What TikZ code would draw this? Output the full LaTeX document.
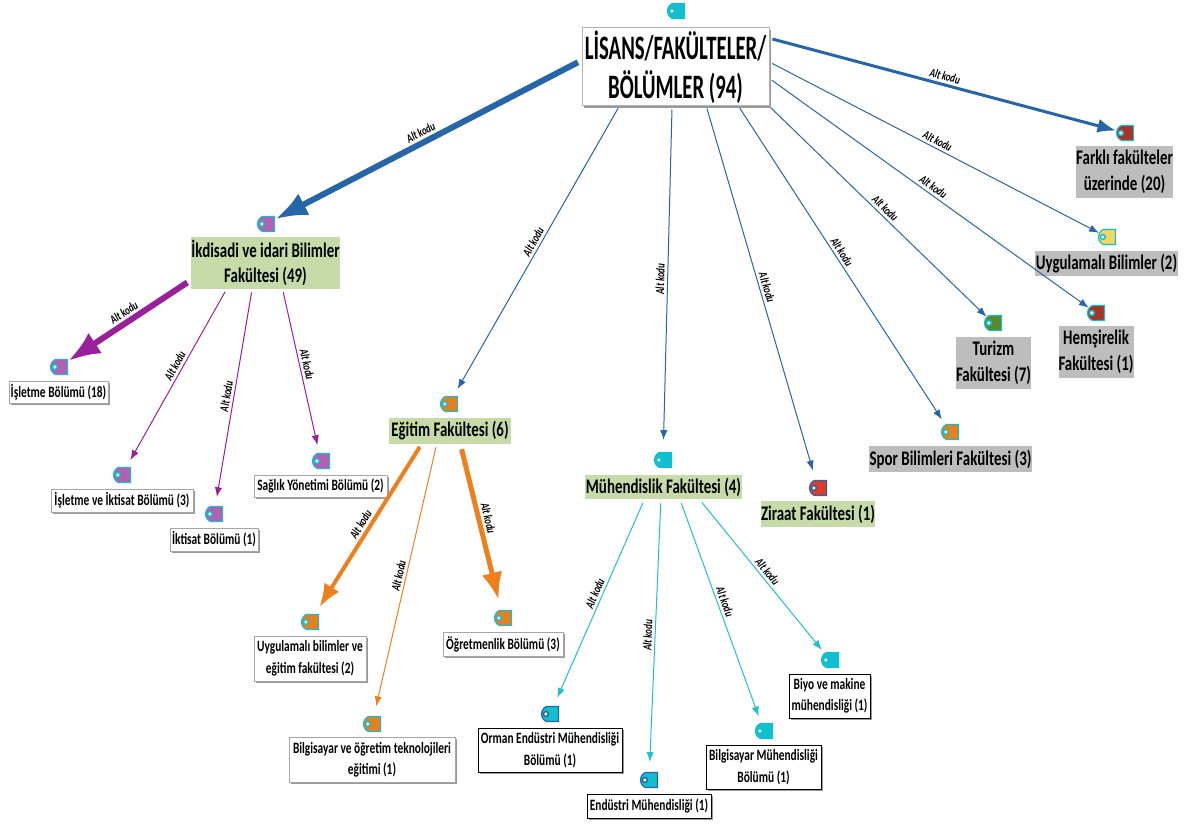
\documentclass[tikz,border=0pt]{standalone}
\usepackage{fontspec}
\setmainfont[FakeStretch=0.72]{Carlito}
\newfontfamily\rootfont[FakeStretch=0.605]{Carlito}
\usetikzlibrary{arrows.meta, shapes.misc, shadows}
\newdimen\px
\px=0.02cm
\definecolor{blueedge}{HTML}{2565A8}
\definecolor{purpleedge}{HTML}{9A1F9A}
\definecolor{orangeedge}{HTML}{EE7F1A}
\definecolor{cyanedge}{HTML}{1FC0CC}
\definecolor{tagcyan}{HTML}{10BFD0}
\definecolor{tagpurple}{HTML}{B45FB4}
\definecolor{tagorange}{HTML}{E87F1C}
\definecolor{tagred}{HTML}{E03A2A}
\definecolor{tagbrick}{HTML}{A93226}
\definecolor{tagolive}{HTML}{5B8A2A}
\definecolor{tagyellow}{HTML}{F3D860}
\definecolor{boxgreen}{HTML}{C6DBA8}
\definecolor{boxgray}{HTML}{BDBDBD}
\tikzset{
  tagbox/.style 2 args={draw=#2, fill=#1, line width=1.2\px, rounded rectangle,
    rounded rectangle right arc=none, rounded rectangle arc length=130,
    minimum width=17\px, minimum height=15\px, inner sep=0pt,
    path picture={
      \fill[#2] ([xshift=-3.5\px]path picture bounding box.center) circle (3.2\px);
      \fill[white] ([xshift=-3.5\px]path picture bounding box.center) circle (1.8\px);
    }},
  rootbox/.style={draw=gray!60, fill=white, line width=1\px, align=center, inner sep=0pt,
    font=\rootfont\fontsize{19.5}{22}\selectfont\bfseries,
    drop shadow={shadow xshift=1.5\px, shadow yshift=-2\px, fill=gray!80, opacity=1}},
  greenbox/.style={fill=boxgreen, align=center, inner sep=0pt,
    font=\fontsize{11.8}{14.5}\selectfont\bfseries},
  graybox/.style={fill=boxgray, align=center, inner sep=0pt,
    font=\fontsize{11.8}{14.5}\selectfont\bfseries},
  whitebox/.style={draw=#1, fill=white, line width=.8\px, align=center, inner sep=0pt,
    font=\fontsize{9}{12.2}\selectfont\bfseries,
    drop shadow={shadow xshift=1.5\px, shadow yshift=-2\px, fill=gray!80, opacity=1}},
  whitebox/.default=gray!70,
  edge/.style={draw=#1, ->, line width=1\px},
  altkodu/.style={sloped, above, inner sep=1.5pt, text=black,
    font=\fontsize{7}{8}\selectfont\bfseries\itshape}
}

\begin{document}
\begin{tikzpicture}[x=0.02cm, y=-0.02cm, >={Latex}]
  \useasboundingbox (0,0) rectangle (1192,824);

  % Define tags
  \node [tagbox={tagcyan}{tagcyan}] (rootTag) at (676,11) {};
  \node [tagbox={tagpurple}{tagcyan}] (ikdisadiTag) at (266,224) {};
  \node [tagbox={tagpurple}{tagcyan}] (isletmeTag) at (59,367) {};
  \node [tagbox={tagpurple}{tagcyan}] (isletmeIktisatTag) at (122,475) {};
  \node [tagbox={tagpurple}{tagcyan}] (iktisatTag) at (214,514) {};
  \node [tagbox={tagpurple}{tagcyan}] (saglikTag) at (321,461) {};
  \node [tagbox={tagorange}{tagcyan}] (egitimTag) at (449,404) {};
  \node [tagbox={tagorange}{tagcyan}] (uygulamaliTag) at (310,622) {};
  \node [tagbox={tagorange}{tagcyan}] (teknolojiTag) at (372,724) {};
  \node [tagbox={tagorange}{tagcyan}] (ogretmenTag) at (503,618) {};
  \node [tagbox={tagcyan}{tagcyan}] (muhendisTag) at (663,460) {};
  \node [tagbox={tagcyan}{blueedge}] (ormanTag) at (550,714) {};
  \node [tagbox={tagcyan}{blueedge}] (endustriTag) at (649,780) {};
  \node [tagbox={tagcyan}{tagcyan}] (bilgMuhTag) at (764,731) {};
  \node [tagbox={tagcyan}{tagcyan}] (biyoTag) at (830,660) {};
  \node [tagbox={tagred}{blueedge}] (ziraatTag) at (818,488) {};
  \node [tagbox={tagorange}{tagcyan}] (sporTag) at (950,432) {};
  \node [tagbox={tagolive}{tagcyan}] (turizmTag) at (993,323) {};
  \node [tagbox={tagbrick}{tagcyan}] (hemsireTag) at (1096,313) {};
  \node [tagbox={tagyellow}{tagcyan}] (uygBilimTag) at (1107,237) {};
  \node [tagbox={tagbrick}{tagcyan}] (farkliTag) at (1125,133) {};

  % Define boxes
  \node [rootbox, minimum width=187\px, minimum height=78\px] (root) at (675.5,67) {LİSANS/FAKÜLTELER/\\BÖLÜMLER (94)};
  \node [greenbox, minimum width=149\px, minimum height=52\px] (ikdisadi) at (265.5,263) {İkdisadi ve idari Bilimler\\Fakültesi (49)};
  \node [whitebox, minimum width=99\px, minimum height=22\px] (isletme) at (58.5,392) {İşletme Bölümü (18)};
  \node [whitebox, minimum width=142\px, minimum height=23\px] (isletmeIktisat) at (122,500.5) {İşletme ve İktisat Bölümü (3)};
  \node [whitebox, minimum width=88\px, minimum height=23\px] (iktisat) at (214,539.5) {İktisat Bölümü (1)};
  \node [whitebox, minimum width=133\px, minimum height=22\px] (saglik) at (320.5,486) {Sağlık Yönetimi Bölümü (2)};
  \node [greenbox, minimum width=122\px, minimum height=26\px] (egitim) at (450,431) {Eğitim Fakültesi (6)};
  \node [whitebox, minimum width=112\px, minimum height=45\px] (uygulamali) at (310,658.5) {Uygulamalı bilimler ve\\eğitim fakültesi (2)};
  \node [whitebox, minimum width=166\px, minimum height=45\px] (teknoloji) at (372,759.5) {Bilgisayar ve öğretim teknolojileri\\eğitimi (1)};
  \node [whitebox, minimum width=120\px, minimum height=24\px] (ogretmen) at (503,644) {Öğretmenlik Bölümü (3)};
  \node [greenbox, minimum width=157\px, minimum height=24\px] (muhendis) at (663.5,487) {Mühendislik Fakültesi (4)};
  \node [whitebox=black, minimum width=144\px, minimum height=44\px] (orman) at (550,750) {Orman Endüstri Mühendisliği\\Bölümü (1)};
  \node [whitebox=black, minimum width=124\px, minimum height=24\px] (endustri) at (649,806) {Endüstri Mühendisliği (1)};
  \node [whitebox=black, minimum width=115\px, minimum height=44\px] (bilgMuh) at (763.5,767) {Bilgisayar Mühendisliği\\Bölümü (1)};
  \node [whitebox=black, minimum width=81\px, minimum height=44\px] (biyo) at (829.5,696) {Biyo ve makine\\mühendisliği (1)};
  \node [greenbox, minimum width=114\px, minimum height=26\px] (ziraat) at (818,514) {Ziraat Fakültesi (1)};
  \node [graybox, minimum width=163\px, minimum height=26\px] (spor) at (950.5,459) {Spor Bilimleri Fakültesi (3)};
  \node [graybox, minimum width=75\px, minimum height=52\px] (turizm) at (993.5,363) {Turizm\\Fakültesi (7)};
  \node [graybox, minimum width=74\px, minimum height=52\px] (hemsire) at (1096,352) {Hemşirelik\\Fakültesi (1)};
  \node [graybox, minimum width=143\px, minimum height=25\px] (uygBilim) at (1106.5,263.5) {Uygulamalı Bilimler (2)};
  \node [graybox, minimum width=97\px, minimum height=52\px] (farkli) at (1124.5,172) {Farklı fakülteler\\üzerinde (20)};

  % Connect root to faculties
  \draw [edge=blueedge, line width=6\px, shorten <=4\px] (root.176.9) -- node[pos=.51, altkodu] {Alt kodu} (ikdisadiTag);
  \draw [edge=blueedge, shorten <=2\px, shorten >=8\px] (root.-145.4) -- node[pos=.48, altkodu] {Alt kodu} (egitimTag);
  \draw [edge=blueedge, shorten <=3\px, shorten >=12\px] (root.-95.1) -- node[pos=.5, altkodu] {Alt kodu} (muhendisTag);
  \draw [edge=blueedge, shorten <=2\px, shorten >=10\px] (root.-52.9) -- node[pos=.49, altkodu] {Alt kodu} (ziraatTag);
  \draw [edge=blueedge, shorten <=2\px, shorten >=6\px] (root.-32) -- node[pos=.47, altkodu] {Alt kodu} (sporTag);
  \draw [edge=blueedge, shorten <=2\px] (root.south east) -- node[pos=.51, altkodu] {Alt kodu} (turizmTag);
  \draw [edge=blueedge, shorten <=3\px] (root.-7.9) -- node[pos=.5, altkodu] {Alt kodu} (hemsireTag);
  \draw [edge=blueedge, shorten <=3\px] (root.3.1) -- node[pos=.5, altkodu] {Alt kodu} (uygBilimTag);
  \draw [edge=blueedge, line width=3\px, shorten <=3\px] (root.17.2) -- node[pos=.5, altkodu] {Alt kodu} (farkliTag);

  % Connect faculties to departments
  \draw [edge=purpleedge, line width=6\px, shorten <=4\px] (ikdisadi.-167.9) -- node[pos=.5, altkodu] {Alt kodu} (isletmeTag);
  \draw [edge=purpleedge, shorten <=3\px, shorten >=8\px] (ikdisadi.-146) -- node[pos=.45, altkodu] {Alt kodu} (isletmeIktisatTag);
  \draw [edge=purpleedge, shorten <=3\px, shorten >=9\px] (ikdisadi.-117.4) -- node[pos=.5, altkodu] {Alt kodu} (iktisatTag);
  \draw [edge=purpleedge, shorten <=3\px, shorten >=8\px] (ikdisadi.-57.6) -- node[pos=.47, altkodu] {Alt kodu} (saglikTag);
  \draw [edge=orangeedge, line width=4\px, shorten <=3\px, shorten >=8\px] (egitim.-155) -- node[pos=.5, altkodu] {Alt kodu} (uygulamaliTag);
  \draw [edge=orangeedge, shorten <=3\px, shorten >=10\px] (egitim.-135) -- node[pos=.49, altkodu] {Alt kodu} (teknolojiTag);
  \draw [edge=orangeedge, line width=5\px, shorten <=5\px, shorten >=10\px] (egitim.-52.4) -- node[pos=.46, altkodu] {Alt kodu} (ogretmenTag);
  \draw [edge=cyanedge, shorten <=4\px, shorten >=9\px] (muhendis.-147) -- node[pos=.47, altkodu] {Alt kodu} (ormanTag);
  \draw [edge=cyanedge, shorten <=4\px, shorten >=10\px] (muhendis.-102) -- node[pos=.5, altkodu] {Alt kodu} (endustriTag);
  \draw [edge=cyanedge, shorten <=4\px, shorten >=7\px] (muhendis.-37.7) -- node[pos=.47, altkodu] {Alt kodu} (bilgMuhTag);
  \draw [edge=cyanedge, shorten <=4\px, shorten >=4\px] (muhendis.-19.2) -- node[pos=.5, altkodu] {Alt kodu} (biyoTag);
\end{tikzpicture}
\end{document}
